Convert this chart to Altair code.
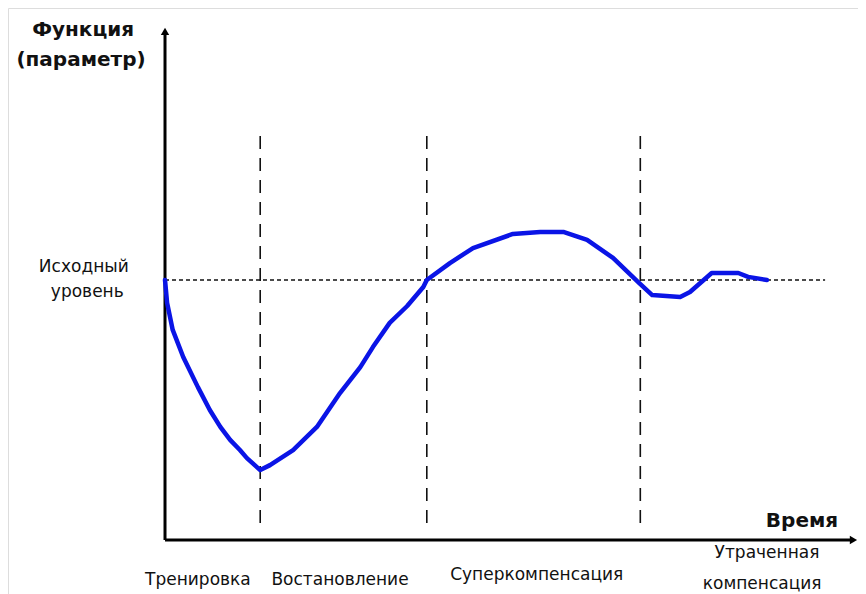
import altair as alt
import pandas as pd

# Curve: time (arbitrary units) vs function level (baseline = 100)
t = [0, 0.3, 1.1, 2.6, 4.7, 6.4, 7.9, 9.3, 10.7, 11.7, 13.6, 15.0, 18.3, 21.7,
     25.0, 27.9, 29.7, 32.1, 34.6, 36.9, 37.4, 40.7, 44.0, 49.7, 53.6, 56.9,
     60.3, 64.0, 67.6, 69.6, 73.6, 75.0, 78.1, 81.9, 83.3, 86.0]
level = [100, 91.2, 80.8, 70.4, 58.8, 50.0, 43.5, 38.5, 34.6, 31.5, 26.9, 28.8,
         34.6, 43.5, 56.5, 66.5, 74.2, 83.5, 90.0, 97.3, 100, 106.5, 112.3, 117.7,
         118.5, 118.5, 115.4, 108.5, 99.2, 94.2, 93.5, 95.4, 102.7, 102.7, 101.2, 100]

baseline = 100
baseline_end = 94.3
phase_bounds = [13.6, 37.4, 67.9]
phase_top = 155.8
phase_bottom = 6.5
y_axis_top = 197.3
x_axis_end = 99.0

phase_labels = ["Тренировка", "Востановление", "Суперкомпенсация", "Утраченная", "компенсация"]
phase_label_t = [4.7, 25.0, 53.1, 86.0, 85.3]
phase_label_y = [-15.4, -15.4, -13.5, -5.0, -16.9]

xs = alt.Scale(domain=[-22.43, 99.0], nice=False, zero=False)
ys = alt.Scale(domain=[-20.77, 204.62], nice=False, zero=False)

def X(f):
    return alt.X(f, type="quantitative", scale=xs, axis=None)

def Y(f):
    return alt.Y(f, type="quantitative", scale=ys, axis=None)

curve_df = pd.DataFrame({"t": t, "level": level})
vdf = pd.DataFrame({"t": phase_bounds, "y1": [phase_bottom] * 3, "y2": [phase_top] * 3})
hdf = pd.DataFrame({"t1": [0], "t2": [baseline_end], "y": [baseline]})
yaxis_df = pd.DataFrame({"t": [0], "y1": [0], "y2": [y_axis_top - 3]})
xaxis_df = pd.DataFrame({"t1": [0], "t2": [x_axis_end - 1], "y": [0]})
up_df = pd.DataFrame({"t": [0], "y": [y_axis_top - 1.7]})
right_df = pd.DataFrame({"t": [x_axis_end - 0.65], "y": [0]})
lab_df = pd.DataFrame({"label": phase_labels, "t": phase_label_t, "y": phase_label_y})

title_df = pd.DataFrame({"label": ["Функция", "(параметр)"], "t": [-11.7, -12.0], "y": [196.3, 184.6]})
base_df = pd.DataFrame({"label": ["Исходный", "уровень"], "t": [-11.6, -11.1], "y": [105.0, 95.4]})
time_df = pd.DataFrame({"label": ["Время"], "t": [91.0], "y": [7.3]})

vlines = alt.Chart(vdf).mark_rule(color="#111111", strokeWidth=1.6, strokeDash=[13, 9]).encode(
    x=X("t"), y=Y("y1"), y2="y2")
hline = alt.Chart(hdf).mark_rule(color="#111111", strokeWidth=1.6, strokeDash=[4, 3]).encode(
    x=X("t1"), x2="t2", y=Y("y"))
curve = alt.Chart(curve_df).mark_line(color="#0A14E6", strokeWidth=4.5, strokeJoin="round",
                                      strokeCap="round").encode(x=X("t"), y=Y("level"))
yaxis = alt.Chart(yaxis_df).mark_rule(color="black", strokeWidth=3).encode(
    x=X("t"), y=Y("y1"), y2="y2")
xaxis = alt.Chart(xaxis_df).mark_rule(color="black", strokeWidth=3).encode(
    x=X("t1"), x2="t2", y=Y("y"))
up = alt.Chart(up_df).mark_point(shape="triangle-up", filled=True, color="black", size=70, opacity=1).encode(
    x=X("t"), y=Y("y"))
right = alt.Chart(right_df).mark_point(shape="triangle-right", filled=True, color="black", size=70, opacity=1).encode(
    x=X("t"), y=Y("y"))

labels = alt.Chart(lab_df).mark_text(font="DejaVu Sans", fontSize=17, color="#111111", baseline="middle").encode(
    x=X("t"), y=Y("y"), text="label")
titles = alt.Chart(title_df).mark_text(font="DejaVu Sans", fontSize=20, fontWeight="bold", color="#111111",
                                       baseline="middle").encode(x=X("t"), y=Y("y"), text="label")
base_lab = alt.Chart(base_df).mark_text(font="DejaVu Sans", fontSize=17, color="#111111", baseline="middle").encode(
    x=X("t"), y=Y("y"), text="label")
time_lab = alt.Chart(time_df).mark_text(font="DejaVu Sans", fontSize=20, fontWeight="bold", color="#111111",
                                        baseline="middle").encode(x=X("t"), y=Y("y"), text="label")

chart = alt.layer(vlines, hline, yaxis, xaxis, up, right, curve, labels, titles, base_lab, time_lab).properties(
    width=850, height=586, autosize=alt.AutoSizeParams(type="none"), padding=0
).configure_view(stroke=None).configure(background="white")

chart.save("out.html", embed_options={"renderer": "svg", "actions": False})
